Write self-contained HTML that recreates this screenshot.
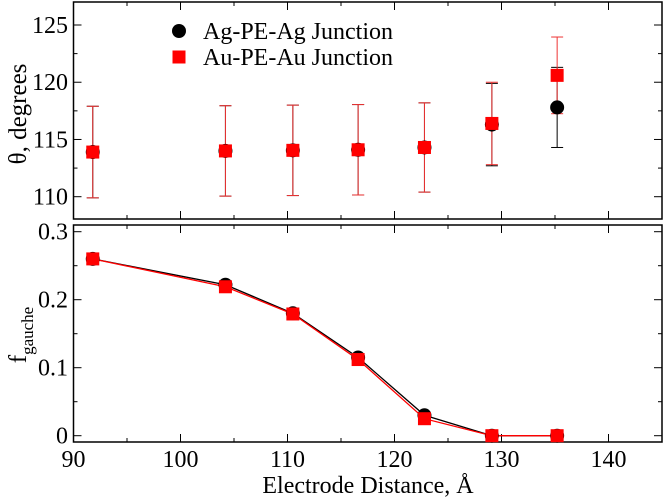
<!DOCTYPE html>
<html><head><meta charset="utf-8"><style>
body{margin:0;background:#fff}
svg text{font-family:"Liberation Serif",serif;fill:#000}
</style></head><body>
<svg id="c" width="664" height="499" xmlns="http://www.w3.org/2000/svg"></svg>
<script>
const xs=[91.8,104.2,110.5,116.6,122.8,129.1,135.2];
const agTheta=[113.9,114.0,114.05,114.1,114.3,116.3,117.8];
const agErr=[4,3.95,3.95,3.95,3.9,3.6,3.5];
const auTheta=[113.9,114.0,114.05,114.1,114.3,116.4,120.6];
const auErr=[4,3.95,3.95,3.95,3.9,3.6,3.35];
const agF=[0.26,0.222,0.18,0.115,0.03,0,0];
const auF=[0.26,0.219,0.179,0.112,0.025,0,0];
const xTicks=[90,100,110,120,130,140];
const thetaTicks=[110,115,120,125];
const fTicks=[0,0.1,0.2,0.3];
const fLabels=["0","0.1","0.2","0.3"];

const svg=document.getElementById('c');const NS='http://www.w3.org/2000/svg';
function mk(t,a,p){const e=document.createElementNS(NS,t);for(const k in a)e.setAttribute(k,a[k]);(p||svg).appendChild(e);return e;}
const L=73.5,R=662;
const X=v=>L+(v-90)*(R-L)/55;
const T1=2,B1=219,T2=225,B2=442;
const Yt=v=>196.7-(v-110)*(196.7-25)/15;
const Yf=v=>435.7-v*680;
const FS=24;

function panel(top,bot,name){
  const r=mk('rect',{x:L,y:top,width:R-L,height:bot-top,fill:'none',stroke:'#000','stroke-width':1.5});
  
  for(let v=90;v<=145;v+=5){const x=X(v),l=v%10==0?8:4;
    mk('line',{x1:x,x2:x,y1:bot,y2:bot-l,stroke:'#000'});mk('line',{x1:x,x2:x,y1:top,y2:top+l,stroke:'#000'});}
}
panel(T1,B1,'top-panel');panel(T2,B2,'bottom-panel');
for(let v=107.5;v<=127;v+=2.5){const y=Yt(v);if(y<T1||y>B1)continue;const l=(v%5==0)?8:4;
  mk('line',{x1:L,x2:L+l,y1:y,y2:y,stroke:'#000'});mk('line',{x1:R,x2:R-l,y1:y,y2:y,stroke:'#000'});}
thetaTicks.forEach(v=>{const t=mk('text',{x:68,y:Yt(v)+8,'text-anchor':'end','font-size':FS});t.textContent=v;
  });
for(let v=0;v<=0.3001;v+=0.05){const y=Yf(v);const l=(Math.round(v*100)%10==0)?8:4;
  mk('line',{x1:L,x2:L+l,y1:y,y2:y,stroke:'#000'});mk('line',{x1:R,x2:R-l,y1:y,y2:y,stroke:'#000'});}
fTicks.forEach((v,i)=>{const t=mk('text',{x:68,y:Yf(v)+8,'text-anchor':'end','font-size':FS});t.textContent=fLabels[i];
  });
xTicks.forEach(v=>{const t=mk('text',{x:X(v),y:467,'text-anchor':'middle','font-size':FS});t.textContent=v;
  });
let t=mk('text',{x:0,y:0,'text-anchor':'middle','font-size':25,transform:'translate(26,114) rotate(-90)'});t.textContent='θ, degrees';

t=mk('text',{x:0,y:0,'text-anchor':'middle','font-size':25,transform:'translate(26,335) rotate(-90)'});
t.innerHTML='f<tspan font-size="17" dy="7">gauche</tspan>';

t=mk('text',{x:368,y:493,'text-anchor':'middle','font-size':FS});t.textContent='Electrode Distance, Å';

function errs(vals,err,col,name){xs.forEach((x,i)=>{const px=X(x),y1=Yt(vals[i]-err[i]),y2=Yt(vals[i]+err[i]);
  const g=mk('g',{stroke:col,'stroke-width':1});
  mk('line',{x1:px,x2:px,y1:y1,y2:y2},g);mk('line',{x1:px-6,x2:px+6,y1:y1,y2:y1},g);mk('line',{x1:px-6,x2:px+6,y1:y2,y2:y2},g);});}
errs(agTheta,agErr,'#000','ag-error-bar');errs(auTheta,auErr,'#e33','au-error-bar');
function circ(cx,cy,name){const c=mk('circle',{cx:cx,cy:cy,r:7,fill:'#000'});}
function sq(cx,cy,name){const c=mk('rect',{x:cx-6.5,y:cy-6.5,width:13,height:13,fill:'#f00'});}
xs.forEach((x,i)=>circ(X(x),Yt(agTheta[i]),'ag-theta-point'));
xs.forEach((x,i)=>sq(X(x),Yt(auTheta[i]),'au-theta-point'));
let p=mk('polyline',{points:xs.map((x,i)=>X(x)+','+Yf(agF[i])).join(' '),fill:'none',stroke:'#000','stroke-width':1.3});

p=mk('polyline',{points:xs.map((x,i)=>X(x)+','+Yf(auF[i])).join(' '),fill:'none',stroke:'#f00','stroke-width':1.3});

xs.forEach((x,i)=>circ(X(x),Yf(agF[i]),'ag-fgauche-point'));
xs.forEach((x,i)=>sq(X(x),Yf(auF[i]),'au-fgauche-point'));
circ(179,31,'legend-ag-marker');sq(179,57,'legend-au-marker');
t=mk('text',{x:203,y:39,'font-size':FS});t.textContent='Ag-PE-Ag Junction';
t=mk('text',{x:203,y:65,'font-size':FS});t.textContent='Au-PE-Au Junction';
</script>
</body></html>
